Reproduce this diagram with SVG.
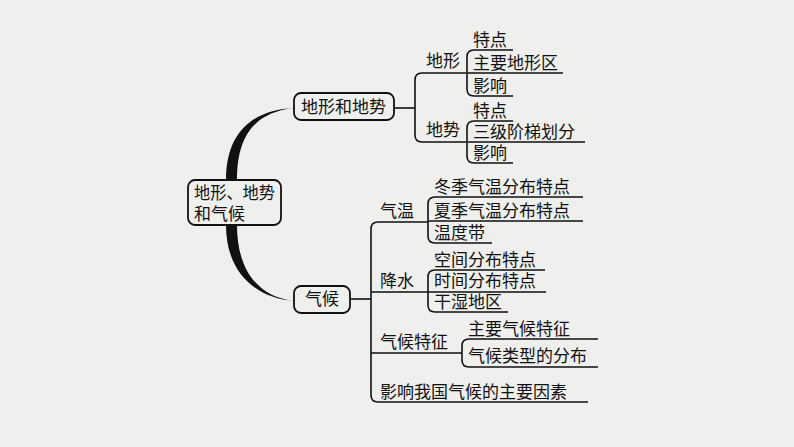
<svg xmlns="http://www.w3.org/2000/svg" width="794" height="447" viewBox="0 0 794 447">
<style>
text{font-family:"Noto Sans CJK SC","Noto Sans CJK TC",sans-serif;font-size:17px;fill:#111}
.l{fill:none;stroke:#111;stroke-width:1.6;stroke-linejoin:round}
.b{fill:none;stroke:#111;stroke-width:1.8}
</style>
<rect width="794" height="447" fill="#efefed"/>
<g id="connectors">
<path d="M226,180 C226,130 255,110 294,108 C258,112 237,132 237,180 Z" fill="#111"/>
<path d="M226,225 C226,272 255,298 294,301 C258,297 237,270 237,225 Z" fill="#111"/>
<path class="l" d="M394,108 H415"/>
<path class="l" d="M466,73 H422 Q415,73 415,80 V135 Q415,142 422,142 H466"/>
<path class="l" d="M513,50 H474 Q467,50 467,57 V89 Q467,96 474,96 H513 M467,73 H563"/>
<path class="l" d="M513,121 H474 Q467,121 467,128 V156 Q467,163 474,163 H513 M467,142 H585"/>
<path class="l" d="M350,299 H371"/>
<path class="l" d="M428,222 H378 Q371,222 371,229 V395 Q371,402 378,402 H588 M371,292 H428 M371,353 H462"/>
<path class="l" d="M583,197 H435 Q428,197 428,204 V236 Q428,243 435,243 H492 M428,221 H583"/>
<path class="l" d="M545,270 H435 Q428,270 428,277 V305 Q428,312 435,312 H508 M428,292 H546"/>
<path class="l" d="M598,339 H469 Q462,339 462,346 V360 Q462,367 469,367 H598"/>
</g>
<g id="root"><rect class="b" x="188" y="180" width="93" height="45" rx="7"/><text x="194" y="199" textLength="81" lengthAdjust="spacingAndGlyphs">地形、地势</text><text x="194" y="220">和气候</text></g>
<g id="dxds"><rect class="b" x="294" y="93" width="100" height="27" rx="7"/><text x="301" y="113">地形和地势</text></g>
<g id="qh"><rect class="b" x="294" y="286" width="56" height="27" rx="7"/><text x="305" y="305">气候</text></g>
<g id="dx"><text x="426" y="67">地形</text></g>
<g id="dx1"><text x="473" y="46">特点</text></g>
<g id="dx2"><text x="473" y="69">主要地形区</text></g>
<g id="dx3"><text x="473" y="92">影响</text></g>
<g id="ds"><text x="426" y="136">地势</text></g>
<g id="ds1"><text x="473" y="117">特点</text></g>
<g id="ds2"><text x="473" y="138">三级阶梯划分</text></g>
<g id="ds3"><text x="473" y="159">影响</text></g>
<g id="qw"><text x="380" y="217">气温</text></g>
<g id="qw1"><text x="434" y="193">冬季气温分布特点</text></g>
<g id="qw2"><text x="434" y="217">夏季气温分布特点</text></g>
<g id="qw3"><text x="434" y="239">温度带</text></g>
<g id="js"><text x="380" y="287">降水</text></g>
<g id="js1"><text x="434" y="266">空间分布特点</text></g>
<g id="js2"><text x="434" y="287">时间分布特点</text></g>
<g id="js3"><text x="434" y="308">干湿地区</text></g>
<g id="tz"><text x="380" y="348">气候特征</text></g>
<g id="tz1"><text x="468" y="335">主要气候特征</text></g>
<g id="tz2"><text x="468" y="362">气候类型的分布</text></g>
<g id="yx"><text x="380" y="398">影响我国气候的主要因素</text></g>
</svg>
